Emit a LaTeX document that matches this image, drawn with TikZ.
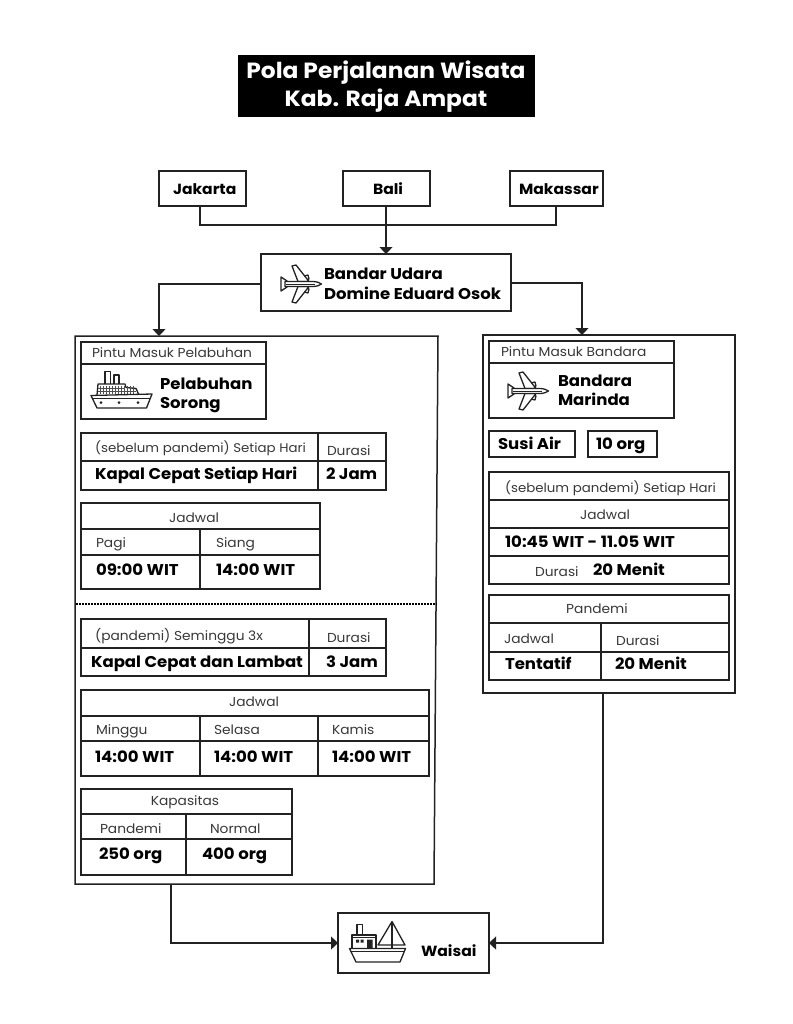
\documentclass[tikz,border=0pt]{standalone}
\usepackage{fontspec}
\setmainfont{Poppins}[FakeStretch=1.06]
\usetikzlibrary{arrows.meta,fit}
\definecolor{ink}{HTML}{222222}
\tikzset{
  x=1pt,y=-1pt,
  framebox/.style={draw=ink,line width=1.15pt,inner sep=0pt,outer sep=0pt,rectangle},
  tablegrid/.style={draw=ink,line width=1.05pt},
  link/.style={draw=ink,line width=1.2pt},
  arr/.style={link,-{Triangle[length=7pt,width=13pt]}},
  lab/.style={anchor=base west,inner sep=0pt,outer sep=0pt,text=ink!90,font=\fontsize{13}{15}\selectfont},
  labn/.style={lab,font=\fontsize{12.6}{15}\selectfont},
  labc/.style={lab,anchor=base},
  blab/.style={anchor=base west,inner sep=0pt,outer sep=0pt,text=black,font=\fontsize{15.6}{18}\selectfont\bfseries},
  blabn/.style={blab,font=\fontsize{14.7}{18}\selectfont\bfseries},
  ttl/.style={anchor=base,inner sep=0pt,outer sep=0pt,text=white,font=\fontsize{22}{26}\selectfont\bfseries},
  icon/.style={draw=ink,line width=1.3pt,fill=white,line join=round},
  planeicon/.pic={
    \draw[icon] (-14,-3) -- (-20,-7) -- (-20,7) -- (-14,3) -- cycle;
    \draw[icon] (-1,-7) -- (7,-9) -- (8,-5) -- (3,-3) -- cycle;
    \draw[icon] (-1,7) -- (7,9) -- (8,5) -- (3,3) -- cycle;
    \draw[icon] (-3,-2.5) -- (-9,-18) -- (-5,-19) -- (8,-2.5) -- cycle;
    \draw[icon] (-3,2.5) -- (-9,18) -- (-5,19) -- (8,2.5) -- cycle;
    \draw[icon] (-16,-2.5) -- (12,-2.5) .. controls (16,-2.5) and (19,-1) .. (20.5,0) .. controls (19,1) and (16,2.5) .. (12,2.5) -- (-16,2.5) -- cycle;
    \draw[draw=ink,line width=.9pt] (-15,0) -- (14,0);
  }
}
\begin{document}
\begin{tikzpicture}
\useasboundingbox (0,0) rectangle (792,1024);
\fill[white] (0,0) rectangle (792,1024);
% title
\node[fill=black,inner sep=0pt,fit={(238,55)(535,117)}] (titlebox) {};
\node[ttl] (title1) at (386,79) {Pola Perjalanan Wisata};
\node[ttl] (title2) at (386,107) {Kab. Raja Ampat};
% origin boxes
\node[framebox,fit={(159,171)(246,206)}] (jakarta) {};
\node[framebox,fit={(343,171)(430,206)}] (bali) {};
\node[framebox,fit={(510,171)(603,206)}] (makassar) {};
\node[blabn] (tjak) at (173,195) {Jakarta};
\node[blabn] (tbal) at (373,195) {Bali};
\node[blabn] (tmak) at (519,195) {Makassar};
% airport
\node[framebox,fit={(261,254)(511,311)}] (bandar) {};
\pic at (301,284) {planeicon};
\node[blab] (tbu1) at (324,279) {Bandar Udara};
\node[blab] (tbu2) at (324,299) {Domine Eduard Osok};
% containers
\coordinate (ltl) at (75,336);
\coordinate (ltr) at (438,336);
\coordinate (lbr) at (434,884);
\coordinate (lbl) at (75,884);
\draw[link,line width=1.5pt] (ltl) -- (ltr) -- (lbr) -- (lbl) -- cycle;
\node[framebox,fit={(483,335)(735,693)}] (rightbox) {};
\node[framebox,fit={(338,913)(489,973)}] (waisai) {};
% connectors
\coordinate (jc) at (200,225);
\coordinate (mc) at (556,225);
\draw[link] (jc |- jakarta.south) -- (jc) -- (mc) -- (mc |- makassar.south);
\draw[arr] ([xshift=-0.5pt]bali.south) -- ([xshift=-0.5pt]bandar.north -| bali.south);
\coordinate (lin) at (159,336);
\coordinate (rin) at (582,335);
\draw[arr] ([yshift=-1.5pt]bandar.west) -| (lin);
\draw[arr] ([yshift=-0.5pt]bandar.east) -| (rin);
\coordinate (lout) at (171,884);
\coordinate (rout) at (603,693);
\draw[arr] (lout) |- (waisai.west);
\draw[arr] (rout) |- (waisai.east);
% dotted separator
\coordinate (d1) at (76,604);
\coordinate (d2) at (437,604);
\draw[draw=black,line width=2pt,dash pattern=on 1.6pt off 1.4pt] (d1) -- (d2);
% Left: Pintu Masuk Pelabuhan
\draw[tablegrid] (81,342) rectangle (266,419) (81,364) -- (266,364);
\node[lab] (t1) at (92,357) {Pintu Masuk Pelabuhan};
\node[blab] (t2) at (160,389) {Pelabuhan};
\node[blab] (t3) at (160,408) {Sorong};
% ship icon
\draw[icon] (105,384) -- (105,371.5) -- (110.5,371.5) -- (110.5,384);
\draw[icon] (114,384) -- (114,375) -- (119,375) -- (119,384);
\draw[icon] (97,395) -- (98,384) -- (125,384) -- (126,387.5) -- (136,388.5) -- (139,395);
\foreach \gx in {100,103,106,109,112,115,118,121,124,127,130,133}
  \draw[draw=ink!80,line width=1pt] (\gx,386) -- (\gx,394);
\draw[draw=ink!80,line width=1pt] (98,388.5) -- (125,388.5) (98,391.5) -- (136,391.5);
\draw[icon] (91,395.5) -- (152,394) -- (146.5,408) -- (97,408) -- cycle;
\draw[draw=ink,line width=1.1pt] (93,398.5) -- (150,398.5);
\fill[ink] (101,402.5) circle (1.5) (119,402.5) circle (1.5) (138,402.5) circle (1.5);
% Left: sebelum pandemi
\draw[tablegrid] (81,433) rectangle (386,490) (81,461) -- (386,461) (318,433) -- (318,490);
\node[labn] (t4) at (95,452) {(sebelum pandemi) Setiap Hari};
\node[lab] (t5) at (327,455) {Durasi};
\node[blab] (t6) at (95,479) {Kapal Cepat Setiap Hari};
\node[blab] (t7) at (326,479) {2 Jam};
% Left: Jadwal 1
\draw[tablegrid] (81,503) rectangle (320,589) (81,529) -- (320,529) (81,555) -- (320,555) (200,529) -- (200,589);
\node[labc] (t8) at (194,522) {Jadwal};
\node[lab] (t9) at (96,547) {Pagi};
\node[lab] (t10) at (216,547) {Siang};
\node[blab] (t11) at (96,575) {09:00 WIT};
\node[blab] (t12) at (216,575) {14:00 WIT};
% Left: pandemi
\draw[tablegrid] (81,619) rectangle (386,676) (81,648) -- (386,648) (309,619) -- (309,676);
\node[lab] (t13) at (95,640) {(pandemi) Seminggu 3x};
\node[lab] (t14) at (327,642) {Durasi};
\node[blab] (t15) at (91,667) {Kapal Cepat dan Lambat};
\node[blab] (t16) at (326,667) {3 Jam};
% Left: Jadwal 2
\draw[tablegrid] (81,690) rectangle (429,776) (81,716) -- (429,716) (81,741) -- (429,741) (200,716) -- (200,776) (318,716) -- (318,776);
\node[labc] (t17) at (254,706) {Jadwal};
\node[lab] (t18) at (96,734) {Minggu};
\node[lab] (t19) at (214,734) {Selasa};
\node[lab] (t20) at (332,734) {Kamis};
\node[blab] (t21) at (95,762) {14:00 WIT};
\node[blab] (t22) at (214,762) {14:00 WIT};
\node[blab] (t23) at (332,762) {14:00 WIT};
% Left: Kapasitas
\draw[tablegrid] (81,789) rectangle (292,875) (81,814) -- (292,814) (81,839) -- (292,839) (186,814) -- (186,875);
\node[labc] (t24) at (185,805) {Kapasitas};
\node[lab] (t25) at (100,833) {Pandemi};
\node[lab] (t26) at (210,833) {Normal};
\node[blab] (t27) at (99,859) {250 org};
\node[blab] (t28) at (202,859) {400 org};
% Right: Pintu Masuk Bandara
\draw[tablegrid] (489,341) rectangle (674,418) (489,363) -- (674,363);
\node[lab] (t29) at (501,356) {Pintu Masuk Bandara};
\pic at (528,391) {planeicon};
\node[blab] (t30) at (558,386) {Bandara};
\node[blab] (t31) at (558,405) {Marinda};
\draw[tablegrid] (489,431) rectangle (575,457);
\draw[tablegrid] (588,431) rectangle (657,457);
\node[blab] (t32) at (498,449) {Susi Air};
\node[blab] (t33) at (596,449) {10 org};
% Right: sebelum pandemi
\draw[tablegrid] (489,472) rectangle (729,584) (489,500) -- (729,500) (489,528) -- (729,528) (489,556) -- (729,556);
\node[labn] (t34) at (505,492) {(sebelum pandemi) Setiap Hari};
\node[labc] (t35) at (605,519) {Jadwal};
\node[blab] (t36) at (505,547) {10:45 WIT - 11.05 WIT};
\node[lab] (t37) at (535,576) {Durasi};
\node[blab] (t38) at (593,575) {20 Menit};
% Right: Pandemi
\draw[tablegrid] (489,595) rectangle (729,680) (489,623) -- (729,623) (489,652) -- (729,652) (601,623) -- (601,680);
\node[labc] (t39) at (597,613) {Pandemi};
\node[lab] (t40) at (504,643) {Jadwal};
\node[lab] (t41) at (616,645) {Durasi};
\node[blab] (t42) at (505,669) {Tentatif};
\node[blab] (t43) at (615,669) {20 Menit};
% Waisai icon
\draw[icon] (357,935) -- (357,924.5) -- (362.5,924.5) -- (362.5,935);
\draw[icon] (352,948) -- (352,935) -- (376,935) -- (376,948);
\draw[draw=ink,line width=1.6pt] (352,937.5) -- (376,937.5);
\fill[ink] (356,939.5) rectangle (359,942.5) (360.5,939.5) rectangle (363.5,942.5) (367,939.5) rectangle (372.5,948);
\draw[icon] (392,921.5) -- (378,945) -- (405,945) -- cycle;
\draw[draw=ink,line width=1.3pt] (392,921.5) -- (392,948);
\draw[icon] (349.5,948.5) -- (405.5,948.5) -- (400,962) -- (356,962) -- cycle;
\draw[draw=ink,line width=1pt] (350.5,951.5) -- (404.5,951.5);
\node[blabn] (t44) at (421,956) {Waisai};
\end{tikzpicture}
\end{document}
